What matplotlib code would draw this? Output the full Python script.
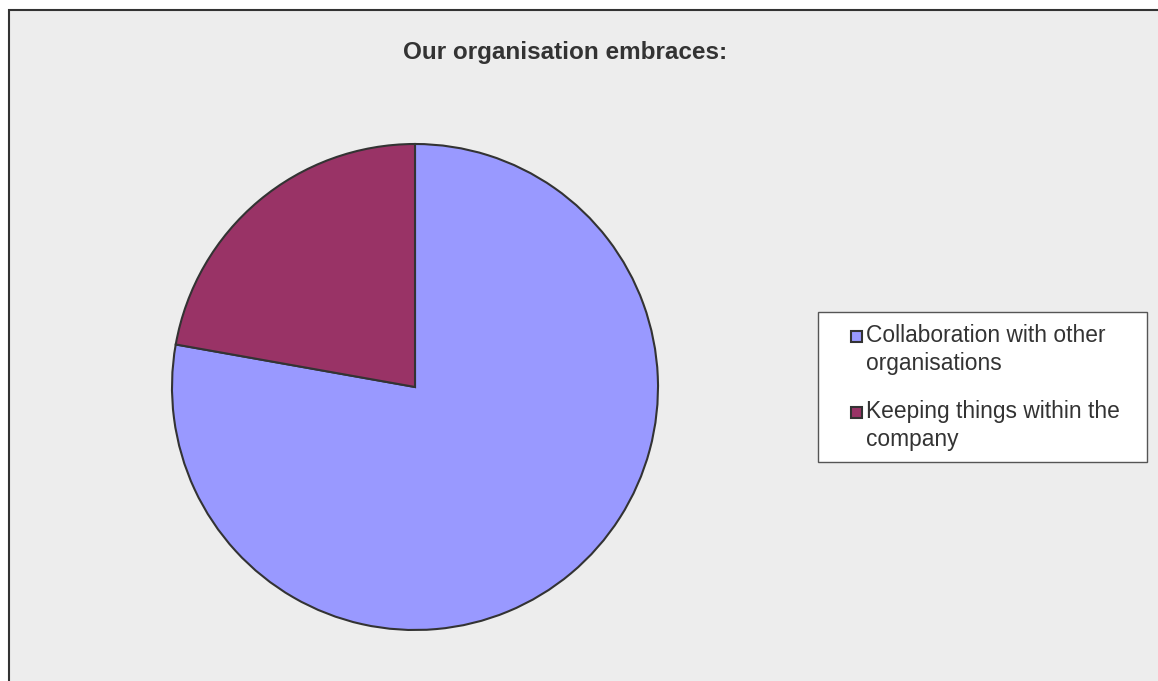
import matplotlib.pyplot as plt
from matplotlib.patches import Rectangle

labels = ['Collaboration with other\norganisations', 'Keeping things within the\ncompany']
values = [77.8, 22.2]
colors = ['#9999FF', '#993366']

W, H = 1158, 681
fig = plt.figure(figsize=(W / 100, H / 100), dpi=100)
fig.patch.set_facecolor('white')

def px(x, y):
    # pixel position (from top-left) to figure fraction
    return x / W, 1 - y / H

# grey chart area, top and left border visible
fig.patches.append(Rectangle((8.5 / W, -0.1), 1.2, 1.1 - 9.5 / H,
                             transform=fig.transFigure, facecolor='#EDEDED',
                             edgecolor='#333333', linewidth=1.5, zorder=-5))

fig.text(*px(565, 53), 'Our organisation embraces:', ha='center', va='center',
         fontsize=17.5, fontweight='bold', family='Liberation Sans',
         color='#333333')

cx, cy, r = 415, 387, 243
ax = fig.add_axes([(cx - r) / W, (H - cy - r) / H, 2 * r / W, 2 * r / H])
ax.pie(values, colors=colors, startangle=90, counterclock=False,
       wedgeprops=dict(edgecolor='#333333', linewidth=1.5))
ax.set_xlim(-1.0, 1.0)
ax.set_ylim(-1.0, 1.0)
ax.set_aspect('equal')
ax.axis('off')

# legend box
lx0, ly0, lx1, ly1 = 818, 312, 1147, 462
fig.patches.append(Rectangle(px(lx0, ly1), (lx1 - lx0) / W, (ly1 - ly0) / H,
                             transform=fig.transFigure, facecolor='white',
                             edgecolor='#555555', linewidth=1.0, zorder=2))
entry_y = [336, 412]
for lab, col, ey in zip(labels, colors, entry_y):
    fig.patches.append(Rectangle(px(851, ey + 5.5), 11 / W, 11 / H,
                                 transform=fig.transFigure, facecolor=col,
                                 edgecolor='#333333', linewidth=1.5, zorder=3))
    fig.text(*px(866, ey - 12), lab, ha='left', va='top', fontsize=16.4,
             family='Liberation Sans', color='#333333', linespacing=1.28,
             zorder=4)

fig.savefig('out.png', dpi=100, facecolor=fig.get_facecolor())
